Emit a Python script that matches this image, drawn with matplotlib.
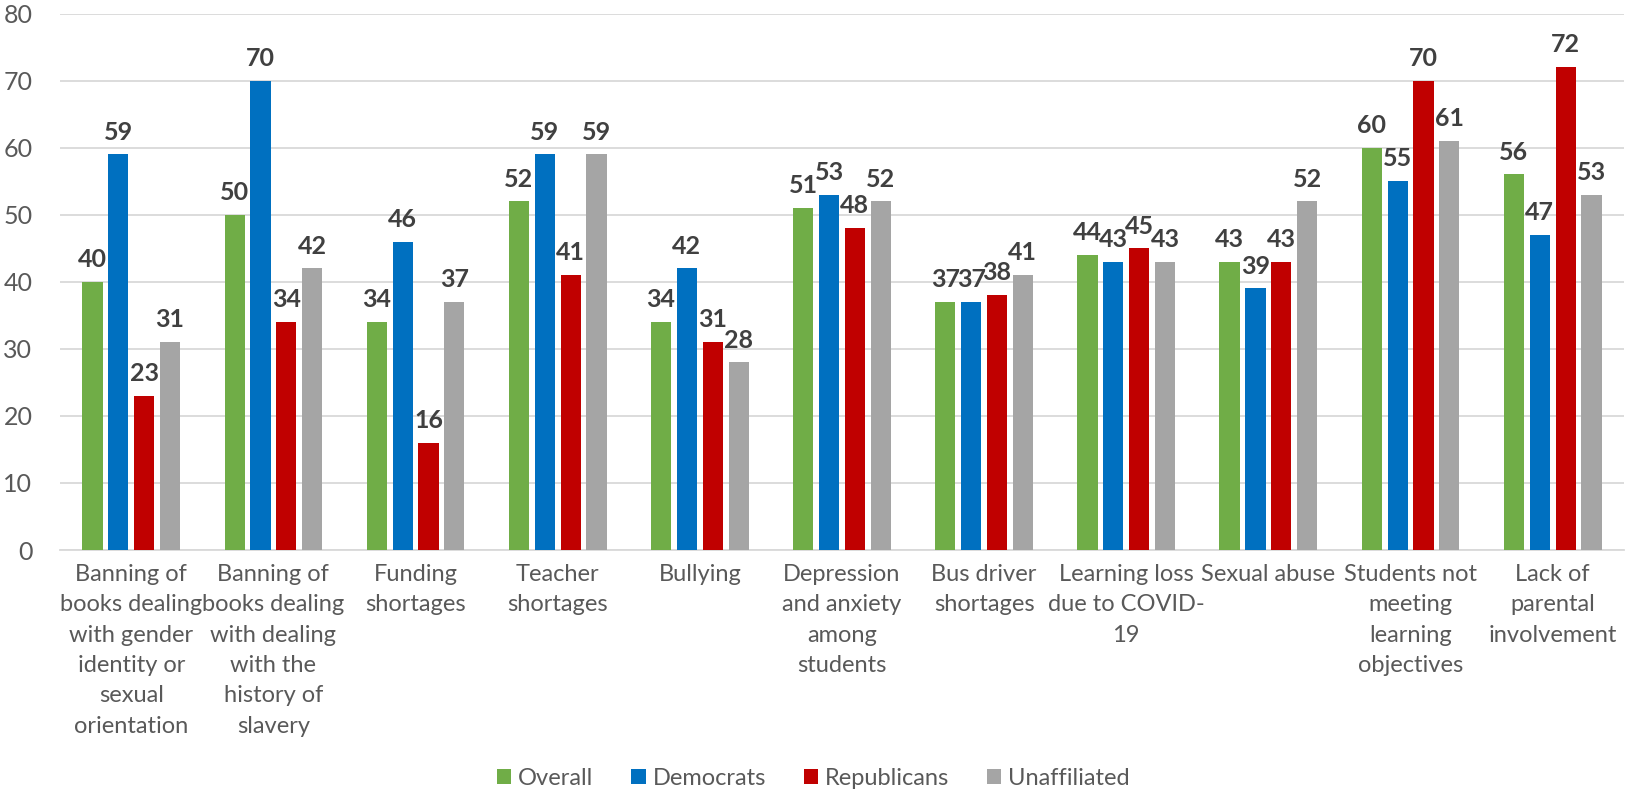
import numpy as np
import matplotlib.pyplot as plt

plt.rcParams['font.family'] = ['Lato', 'DejaVu Sans']

# categories and series values
categories = [
    "Banning of\nbooks dealing\nwith gender\nidentity or\nsexual\norientation",
    "Banning of\nbooks dealing\nwith dealing\nwith the\nhistory of\nslavery",
    "Funding\nshortages",
    "Teacher\nshortages",
    "Bullying",
    "Depression\nand anxiety\namong\nstudents",
    "Bus driver\nshortages",
    "Learning loss\ndue to COVID-\n19",
    "Sexual abuse",
    "Students not\nmeeting\nlearning\nobjectives",
    "Lack of\nparental\ninvolvement",
]
overall = [40, 50, 34, 52, 34, 51, 37, 44, 43, 60, 56]
democrats = [59, 70, 46, 59, 42, 53, 37, 43, 39, 55, 47]
republicans = [23, 34, 16, 41, 31, 48, 38, 45, 43, 70, 72]
unaffiliated = [31, 42, 37, 59, 28, 52, 41, 43, 52, 61, 53]

series = [("Overall", overall, "#70AD47"),
          ("Democrats", democrats, "#0070C0"),
          ("Republicans", republicans, "#C00000"),
          ("Unaffiliated", unaffiliated, "#A5A5A5")]

fig = plt.figure(figsize=(16.27, 7.96), dpi=100)
ax = fig.add_axes([0.037, 0.309, 0.961, 0.674])

x = np.arange(len(categories))
width = 0.142
step = 0.182
for i, (name, vals, color) in enumerate(series):
    pos = x + (i - 1.5) * step
    bars = ax.bar(pos, vals, width, color=color, label=name, zorder=3)
    for b, v in zip(bars, vals):
        ax.text(b.get_x() + b.get_width() / 2, v + 1.6, str(v), ha='center', va='bottom',
                fontsize=18, fontweight='bold', color='#404040', zorder=4)

ax.set_xlim(-0.5, len(categories) - 0.5)
ax.set_ylim(0, 80)
ax.set_yticks(range(0, 81, 10))
ax.yaxis.grid(True, color='#D9D9D9', linewidth=1.3, zorder=0)
ax.set_axisbelow(True)
for s in ['top', 'right', 'left']:
    ax.spines[s].set_visible(False)
ax.spines['bottom'].set_color('#D9D9D9')
ax.spines['bottom'].set_linewidth(1.3)
ax.tick_params(axis='both', length=0, labelsize=17, labelcolor='#595959')
ax.tick_params(axis='y', labelsize=18, pad=20)
ax.tick_params(axis='x', pad=10)
ax.set_xticks(x)
ax.set_xticklabels(categories, linespacing=1.55)

fig.legend(loc='center', bbox_to_anchor=(0.5, 0.022), ncol=4, frameon=False,
           fontsize=17, labelcolor='#595959', handlelength=0.6, handleheight=0.6,
           handletextpad=0.3, columnspacing=1.6)

fig.savefig('out.png', dpi=100)
